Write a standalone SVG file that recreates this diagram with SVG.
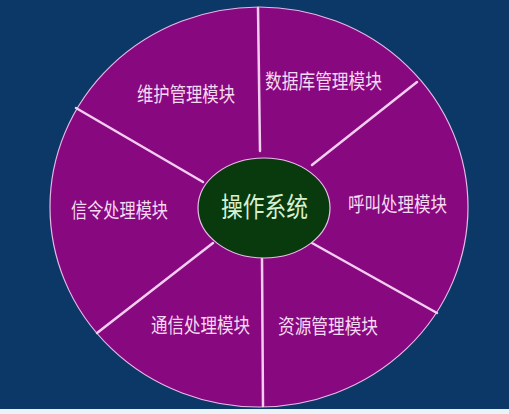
<svg xmlns="http://www.w3.org/2000/svg" width="509" height="414" viewBox="0 0 509 414">
<style>
.lbl{font-family:"Noto Sans CJK SC","Noto Sans CJK TC",sans-serif;font-size:20px;fill:#f6d9f2;dominant-baseline:central;}
.core{font-family:"Noto Sans CJK SC","Noto Sans CJK TC",sans-serif;font-size:27px;fill:#d9f0cf;dominant-baseline:central;}
.div{stroke:#f3cdf0;stroke-width:2.5;stroke-linecap:round;}
</style>
<rect x="0" y="0" width="509" height="414" fill="#0b3867"/>
<rect x="0" y="409" width="509" height="5" fill="#eaf4f8"/>
<g id="wheel">
<ellipse cx="259" cy="207" rx="209" ry="200" fill="#88087f" stroke="#e6b8e6" stroke-width="1.2"/>
</g>
<g id="connectors">
<line class="div" x1="258" y1="8" x2="260" y2="151"/>
<line class="div" x1="417" y1="82" x2="312" y2="165"/>
<line class="div" x1="76" y1="108" x2="203" y2="182"/>
<line class="div" x1="213" y1="243" x2="97" y2="333"/>
<line class="div" x1="262" y1="259" x2="263" y2="406"/>
<line class="div" x1="312" y1="243" x2="437" y2="313"/>
</g>
<g id="core">
<ellipse cx="264" cy="208" rx="66" ry="50" fill="#083a0d" stroke="#e6c0e6" stroke-width="1.2"/>
<text class="core" x="221" y="205" textLength="87" lengthAdjust="spacingAndGlyphs">操作系统</text>
</g>
<g id="n-weihu"><text class="lbl" x="137" y="93" textLength="98" lengthAdjust="spacingAndGlyphs">维护管理模块</text></g>
<g id="n-shujuku"><text class="lbl" x="265" y="80" textLength="117" lengthAdjust="spacingAndGlyphs">数据库管理模块</text></g>
<g id="n-xinling"><text class="lbl" x="71" y="209" textLength="97" lengthAdjust="spacingAndGlyphs">信令处理模块</text></g>
<g id="n-hujiao"><text class="lbl" x="348" y="203" textLength="99" lengthAdjust="spacingAndGlyphs">呼叫处理模块</text></g>
<g id="n-tongxin"><text class="lbl" x="151" y="324" textLength="99" lengthAdjust="spacingAndGlyphs">通信处理模块</text></g>
<g id="n-ziyuan"><text class="lbl" x="278" y="325" textLength="100" lengthAdjust="spacingAndGlyphs">资源管理模块</text></g>
</svg>
